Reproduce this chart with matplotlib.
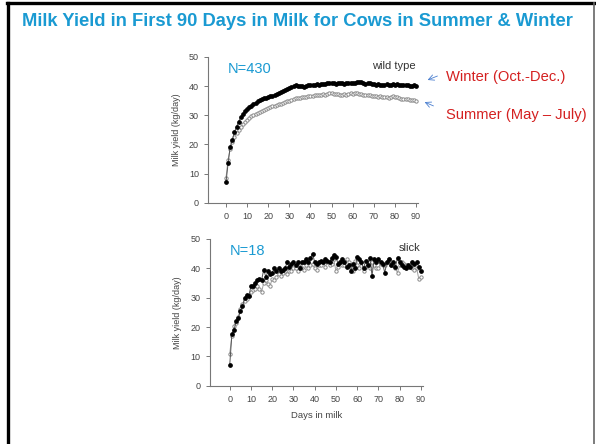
import numpy as np
import matplotlib.pyplot as plt
from matplotlib.lines import Line2D

plt.rcParams['font.family'] = ['Liberation Sans', 'DejaVu Sans']

# days in milk 0..90
days = np.arange(0, 91)

# wild type (N=430)
wt_winter = [7.0, 13.5, 19.2, 21.5, 24.2, 26.0, 27.8, 29.3, 30.4, 31.3, 32.0,
             32.7, 33.3, 33.8, 34.3, 34.8, 35.2, 35.5, 35.8, 36.0, 36.2,
             36.5, 36.7, 37.0, 37.4, 37.6, 37.9, 38.2, 38.6, 39.0, 39.3,
             39.6, 39.9, 40.2, 40.0, 40.1, 40.0, 39.8, 40.1, 40.3, 40.2,
             40.4, 40.5, 40.6, 40.5, 40.7, 40.8, 40.6, 40.9, 41.0, 41.2,
             41.0, 40.8, 40.9, 41.1, 41.0, 40.8, 40.9, 41.0, 41.1, 41.0,
             41.2, 41.4, 41.5, 41.3, 41.0, 40.8, 40.9, 41.0, 40.7, 40.6,
             40.5, 40.7, 40.5, 40.4, 40.5, 40.6, 40.5, 40.4, 40.6, 40.5,
             40.6, 40.5, 40.4, 40.3, 40.2, 40.3, 40.1, 40.0, 40.2, 40.1]
wt_summer = [8.5, 14.8, 18.5, 20.8, 22.5, 24.0, 25.0, 26.0, 27.0, 27.8, 28.5,
             29.1, 29.6, 30.0, 30.4, 30.8, 31.1, 31.5, 31.8, 32.2, 32.5,
             32.7, 33.0, 33.3, 33.5, 33.8, 34.0, 34.3, 34.5, 34.8, 35.0,
             35.3, 35.5, 35.8, 35.9, 36.0, 36.2, 36.1, 36.3, 36.5, 36.6,
             36.7, 36.8, 37.0, 36.9, 37.1, 37.2, 37.0, 37.3, 37.5, 37.6,
             37.4, 37.2, 37.3, 37.1, 37.0, 37.2, 37.0, 37.3, 37.5, 37.4,
             37.6, 37.5, 37.4, 37.2, 37.0, 36.9, 37.0, 36.8, 36.7, 36.6,
             36.5, 36.4, 36.5, 36.3, 36.4, 36.2, 36.0, 36.3, 36.6, 36.4,
             36.1, 35.8, 35.7, 35.5, 35.6, 35.4, 35.3, 35.2, 35.3, 35.0]

# slick (N=18)
sl_winter = [7.2, 17.5, 19.0, 22.0, 23.0, 25.5, 27.0, 30.0, 31.0, 30.5, 34.0,
             34.0, 35.0, 36.0, 36.5, 36.0, 39.5, 37.0, 39.0, 38.0, 38.5,
             40.0, 39.0, 40.0, 39.0, 39.5, 40.0, 42.0, 40.5, 41.5, 42.0,
             41.0, 42.0, 40.0, 42.0, 42.0, 43.0, 42.0, 43.5, 45.0, 42.0,
             41.5, 42.0, 42.5, 42.0, 43.0, 42.5, 42.0, 43.5, 44.5, 44.0,
             41.5, 42.0, 43.0, 42.0, 40.5, 41.0, 39.0, 41.5, 40.0, 44.0,
             43.0, 42.0, 40.0, 42.5, 41.0, 43.5, 37.5, 43.0, 42.0, 43.0,
             42.0, 41.5, 38.5, 42.0, 43.0, 41.0, 42.0, 40.5, 43.5, 42.0,
             41.0, 40.5, 40.0, 41.0, 40.5, 42.0, 41.5, 42.0, 40.5, 39.0]
sl_summer = [11.0, 17.0, 20.5, 21.5, 23.5, 26.0, 28.0, 29.0, 29.5, 30.5, 32.0,
             32.5, 33.0, 34.0, 33.0, 32.0, 35.0, 36.0, 34.5, 34.0, 36.5,
             36.0, 37.0, 38.0, 37.5, 38.5, 39.0, 38.0, 39.0, 39.0, 40.0,
             40.0, 39.0, 41.0, 40.0, 39.5, 41.0, 40.0, 41.0, 41.5, 40.0,
             39.5, 41.0, 41.0, 42.0, 40.5, 42.0, 41.0, 41.5, 43.0, 39.0,
             40.5, 42.0, 41.0, 41.0, 43.0, 42.0, 40.5, 39.0, 42.5, 41.0,
             40.0, 42.0, 39.0, 40.5, 41.0, 40.0, 42.0, 41.0, 40.0, 40.0,
             41.5, 41.0, 41.0, 42.0, 43.0, 41.0, 41.0, 40.0, 38.5, 41.0,
             42.0, 41.5, 41.0, 40.5, 41.0, 40.0, 39.5, 40.0, 36.5, 37.0]

blue = '#1a9ad2'
red = '#d42020'
grey_txt = '#444444'

fig = plt.figure(figsize=(5.96, 4.44), dpi=100)

# slide frame: black left/top, grey right
fig.lines.append(Line2D([0.013, 0.013], [0, 0.994], transform=fig.transFigure,
                        color='black', lw=2.4))
fig.lines.append(Line2D([0.011, 0.997], [0.994, 0.994], transform=fig.transFigure,
                        color='black', lw=2.4))
fig.lines.append(Line2D([0.997, 0.997], [0, 0.994], transform=fig.transFigure,
                        color='#666666', lw=1.2))

fig.text(0.037, 0.952, 'Milk Yield in First 90 Days in Milk for Cows in Summer & Winter',
         color=blue, fontsize=13.2, fontweight='bold', va='center', ha='left')


def panel(ax, winter, summer, ntext, label, xlabel=False):
    ax.plot(days, summer, '-', color='#a0a0a0', lw=0.7, marker='o', ms=2.4,
            mfc='white', mec='#8a8a8a', mew=0.7, zorder=2)
    ax.plot(days, winter, '-', color='#555555', lw=0.7, marker='o', ms=2.4,
            mfc='black', mec='black', zorder=3)
    ax.set_ylim(0, 50)
    ax.set_yticks([0, 10, 20, 30, 40, 50])
    ax.set_xticks(range(0, 91, 10))
    for s in ['top', 'right']:
        ax.spines[s].set_visible(False)
    for s in ['left', 'bottom']:
        ax.spines[s].set_color('#777777')
        ax.spines[s].set_linewidth(0.8)
    ax.tick_params(colors='#777777', labelcolor=grey_txt, labelsize=6.5,
                   length=3, width=0.7)
    ax.set_ylabel('Milk yield (kg/day)', fontsize=6.5, color=grey_txt, labelpad=6)
    if xlabel:
        ax.set_xlabel('Days in milk', fontsize=6.8, color=grey_txt, labelpad=5)
    ax.text(0.095, 0.92, ntext, transform=ax.transAxes, color=blue, fontsize=10.5,
            va='center', ha='left')
    ax.text(0.99, 0.94, label, transform=ax.transAxes, color='#333333', fontsize=8,
            va='center', ha='right')


ax1 = fig.add_axes([0.349, 0.543, 0.352, 0.329])
ax1.set_xlim(-8.5, 90.8)
panel(ax1, wt_winter, wt_summer, 'N=430', 'wild type')

ax2 = fig.add_axes([0.352, 0.131, 0.357, 0.331])
ax2.set_xlim(-9.4, 90.8)
panel(ax2, sl_winter, sl_summer, 'N=18', 'slick', xlabel=True)

# season labels with arrows
fig.text(0.748, 1 - 77 / 444, 'Winter (Oct.-Dec.)', color=red, fontsize=10.6, va='center')
fig.text(0.748, 1 - 115 / 444, 'Summer (May \u2013 July)', color=red, fontsize=10.6, va='center')
ax1.annotate('', xy=(425 / 596, 1 - 81 / 444), xytext=(440 / 596, 1 - 75 / 444),
             xycoords='figure fraction', textcoords='figure fraction',
             arrowprops=dict(arrowstyle='->', color='#4a7fd0', lw=0.6), annotation_clip=False)
ax1.annotate('', xy=(422 / 596, 1 - 101 / 444), xytext=(436 / 596, 1 - 107 / 444),
             xycoords='figure fraction', textcoords='figure fraction',
             arrowprops=dict(arrowstyle='->', color='#4a7fd0', lw=0.6), annotation_clip=False)

fig.savefig('out.png', dpi=100)
